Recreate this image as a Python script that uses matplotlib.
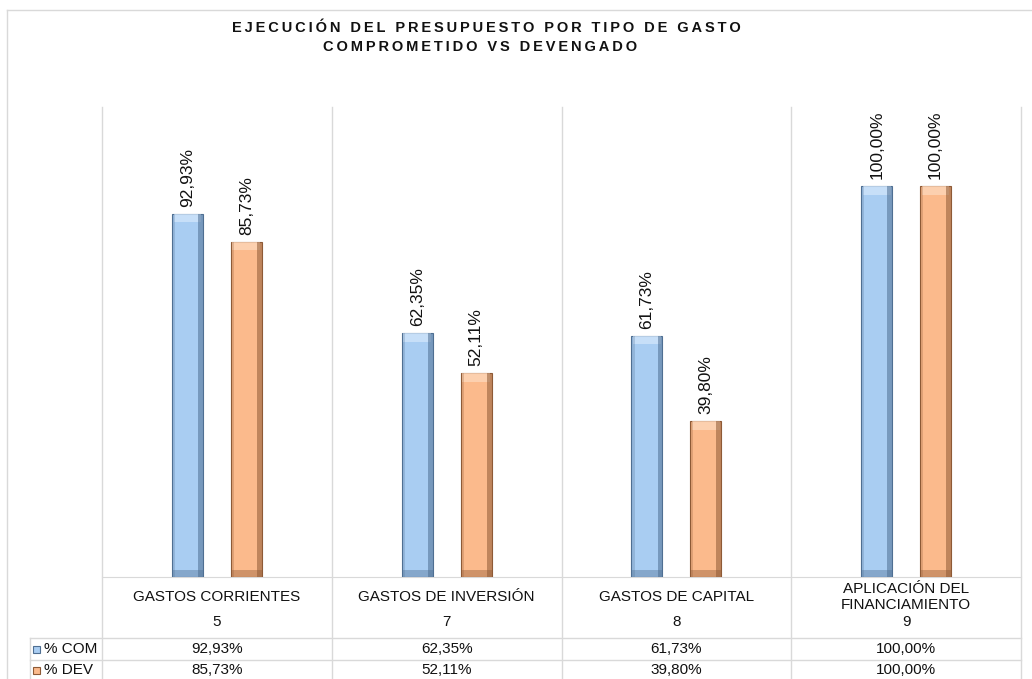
import matplotlib.pyplot as plt
from matplotlib.lines import Line2D
from matplotlib.patches import Rectangle

plt.rcParams['font.family'] = ['Liberation Sans', 'DejaVu Sans']

# --- datos ---
categorias = ["GASTOS CORRIENTES", "GASTOS DE INVERSIÓN", "GASTOS DE CAPITAL",
              "APLICACIÓN DEL\nFINANCIAMIENTO"]
codigos = ["5", "7", "8", "9"]
pct_com = [92.93, 62.35, 61.73, 100.00]
pct_dev = [85.73, 52.11, 39.80, 100.00]
series = ["% COM", "% DEV"]

titulo1 = "EJECUCIÓN DEL PRESUPUESTO POR TIPO DE GASTO"
titulo2 = "COMPROMETIDO VS DEVENGADO"

AZUL = "#A9CDF2"
AZUL_OSC = "#4F6F92"
AZUL_CLARO = "#CFE4FA"
NARANJA = "#FBBA8C"
NARANJA_OSC = "#8E5A36"
NARANJA_CLARO = "#FDD6B8"
GRIS = "#D9D9D9"
TXT = "#111111"

W, H = 1032, 679


def fx(px):
    return px / W


def fy(py):
    return 1 - py / H


def fmt(v):
    return f"{v:.2f}".replace(".", ",") + "%"


def espaciado(s):
    return "\u2009".join(s)


fig = plt.figure(figsize=(W / 100, H / 100), dpi=100)
ax = fig.add_axes([fx(102), fy(577), fx(1021) - fx(102), fy(107) - fy(577)])

x = list(range(len(categorias)))
off = 0.128
bw = 0.135


def bar_bevel(xs, vals, face, dark, light):
    ax.bar(xs, vals, width=bw, color=face, edgecolor=dark, linewidth=0.8, zorder=3)
    # bisel: franja clara arriba, oscura a la derecha y abajo
    ax.bar(xs, [2.2] * len(vals), bottom=[v - 2.2 for v in vals], width=bw * 0.9,
           color=light, linewidth=0, zorder=4, alpha=0.8)
    ax.bar([xi + bw * 0.42 for xi in xs], vals, width=bw * 0.16, color=dark,
           linewidth=0, zorder=4, alpha=0.55)
    ax.bar([xi - bw * 0.45 for xi in xs], vals, width=bw * 0.1, color=dark,
           linewidth=0, zorder=4, alpha=0.25)
    ax.bar(xs, [1.8] * len(vals), width=bw, color=dark, linewidth=0, zorder=4, alpha=0.4)


xc = [xi - off for xi in x]
xd = [xi + off for xi in x]
bar_bevel(xc, pct_com, AZUL, AZUL_OSC, AZUL_CLARO)
bar_bevel(xd, pct_dev, NARANJA, NARANJA_OSC, NARANJA_CLARO)

for xs, vals in ((xc, pct_com), (xd, pct_dev)):
    for xi, v in zip(xs, vals):
        ax.text(xi, v + 1.8, fmt(v), rotation=90, ha="center", va="bottom",
                fontsize=12.5, color=TXT)

ax.set_xlim(-0.5, len(categorias) - 0.5)
ax.set_ylim(0, 120.2)
ax.set_xticks([])
ax.set_yticks([])
for s in ("top", "left", "right"):
    ax.spines[s].set_visible(False)
ax.spines["bottom"].set_color(GRIS)

# --- tabla de datos ---
def to_fig_x(xd_):
    disp = ax.transData.transform((xd_, 0))
    return fig.transFigure.inverted().transform(disp)[0]


bordes = [to_fig_x(b - 0.5) for b in range(len(categorias) + 1)]
for b in bordes:
    fig.add_artist(Line2D([b, b], [fy(679), fy(107)], color=GRIS, lw=1))
fig.add_artist(Line2D([fx(30), fx(30)], [fy(679), fy(638)], color=GRIS, lw=1))
for py in (638, 660):
    fig.add_artist(Line2D([fx(30), bordes[-1]], [fy(py), fy(py)], color=GRIS, lw=1))

for i, (cat, cod) in enumerate(zip(categorias, codigos)):
    cx = to_fig_x(i)
    fig.text(cx, fy(597), cat, ha="center", va="center", fontsize=11,
             linespacing=1.25, color=TXT)
    fig.text(cx, fy(622), cod, ha="center", va="center", fontsize=11, color=TXT)
    fig.text(cx, fy(649), fmt(pct_com[i]), ha="center", va="center", fontsize=11,
             color=TXT)
    fig.text(cx, fy(670), fmt(pct_dev[i]), ha="center", va="center", fontsize=11,
             color=TXT)

for py, nombre, col, dk in ((649, series[0], AZUL, AZUL_OSC), (670, series[1], NARANJA, NARANJA_OSC)):
    fig.add_artist(Rectangle((fx(33), fy(py + 3.5)), fx(7), fy(0) - fy(7),
                             facecolor=col, edgecolor=dk, lw=0.8))
    fig.text(fx(44), fy(py), nombre, ha="left", va="center", fontsize=11, color=TXT)

# borde del área del gráfico
fig.add_artist(Line2D([fx(7), 1], [fy(10), fy(10)], color=GRIS, lw=1))
fig.add_artist(Line2D([fx(7), fx(7)], [fy(10), 0], color=GRIS, lw=1))

fig.text(fx(486), fy(28), espaciado(titulo1), ha="center", va="center",
         fontsize=10.5, fontweight="bold", color=TXT)
fig.text(fx(480), fy(47), espaciado(titulo2), ha="center", va="center",
         fontsize=10.5, fontweight="bold", color=TXT)

fig.savefig("out.png", dpi=100, facecolor="white")
